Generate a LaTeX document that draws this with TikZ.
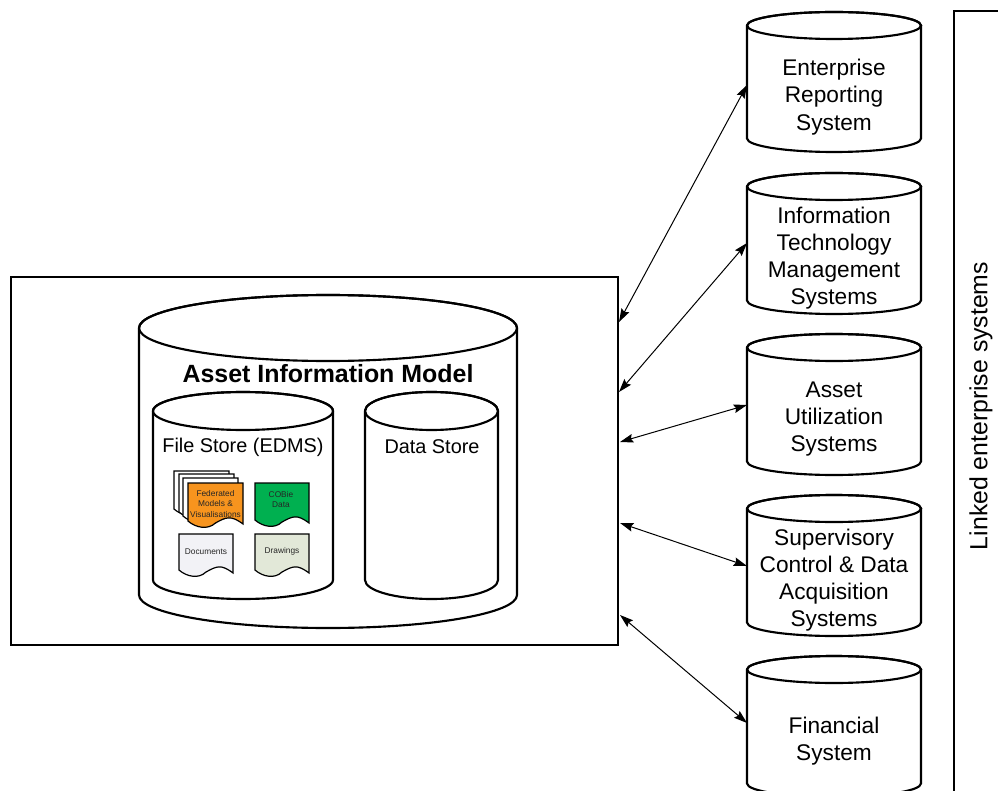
\documentclass[tikz,border=0pt]{standalone}
\usepackage{fontspec}
\setmainfont{Liberation Sans}
\definecolor{orangedoc}{HTML}{F7941E}
\definecolor{greendoc}{HTML}{00B050}
\definecolor{greydoc}{HTML}{F2F2F6}
\definecolor{sagedoc}{HTML}{E2E8D8}
\usetikzlibrary{arrows.meta}
\tikzset{
  outline/.style={draw=black,line width=1.6pt},
  thinline/.style={draw=black,line width=0.75pt,{Stealth[length=10pt,width=6.5pt,inset=1.5pt]}-{Stealth[length=10pt,width=6.5pt,inset=1.5pt]}},
  label/.style={align=center,font=\fontsize{17}{20.4}\selectfont,inner sep=0pt},
  storelabel/.style={align=center,font=\fontsize{14.9}{18}\selectfont,inner sep=0pt},
  doc/.style={draw=black,line width=0.9pt},
  doctext/.style={align=center,font=\fontsize{6.25}{7.6}\selectfont,inner sep=0pt,text=black!85}
}
% #1 left #2 right #3 top #4 bottom #5 half height of the ellipse
\newcommand{\cylshape}[5]{%
  \path[outline,fill=white] (#1,#3+#5)
    -- (#1,#4-#5) arc[start angle=180,end angle=0,x radius={(#2-#1)/2},y radius=#5]
    -- (#2,#3+#5) arc[start angle=0,end angle=-180,x radius={(#2-#1)/2},y radius=#5] -- cycle;
  \path[outline] (#1,#3+#5) arc[start angle=180,end angle=-180,x radius={(#2-#1)/2},y radius=#5];
}
% #1 left #2 right #3 top #4 bottom #5 fill
\newcommand{\docshape}[5]{%
  \path[doc,fill=#5] (#1,#3) -- (#2,#3) -- (#2,#4-3)
    .. controls (#2-12,#4-12) and (#1+38,#4-10) .. ({(#1+#2)/2},#4-4)
    .. controls (#1+20,#4+3) and (#1+8,#4+1) .. (#1,#4-6) -- cycle;
}
\begin{document}
\begin{tikzpicture}[x=0.75pt,y=-0.75pt]
\useasboundingbox (0,0) rectangle (998,791);
\clip (0,0) rectangle (998,791);
\fill[white] (0,0) rectangle (998,791);
% container
\node[outline,fill=white,minimum width=607pt*0.75,minimum height=368pt*0.75,inner sep=0pt,anchor=north west] (aim) at (10,276) {};
\draw[outline] (1010,11) -- (954,11) -- (954,800);
\node[rotate=90,font=\fontsize{18.6}{20}\selectfont,inner sep=0pt] (linked) at (981,406) {Linked enterprise systems};
% big cylinder
\cylshape{139}{517}{295}{628}{33}
\node[font=\bfseries\fontsize{18.7}{22}\selectfont,inner sep=0pt] (title) at (328,374) {Asset Information Model};
\cylshape{153}{333}{392}{599}{19}
\cylshape{365}{498}{392}{599}{19}
\node[storelabel] (file) at (243,447.5) {File Store (EDMS)};
\node[storelabel] (data) at (432,447) {Data Store};
% documents
\docshape{174}{229}{471}{515}{white}
\docshape{179}{234}{474}{518}{white}
\docshape{183}{238}{478}{522}{white}
\docshape{188}{243}{483}{527}{orangedoc}
\node[doctext] (fed) at (215.5,504) {Federated\\Models \&\\Visualisations};
\docshape{255}{309}{483}{526}{greendoc}
\node[doctext] (cobie) at (281,499.5) {COBie\\Data};
\docshape{179}{233}{534}{576}{greydoc}
\node[doctext] (docs) at (206,551.5) {Documents};
\docshape{255}{309}{534}{576}{sagedoc}
\node[doctext] (draw) at (282,551) {Drawings};
% systems
\cylshape{747}{921}{12}{152}{13.5}
\node[label] (s1) at (834,97) {Enterprise\\Reporting\\System};
\cylshape{747}{921}{173}{314}{13.5}
\node[label] (s2) at (834,258) {Information\\Technology\\Management\\Systems};
\cylshape{747}{921}{334}{475}{13.5}
\node[label] (s3) at (834,419) {Asset\\Utilization\\Systems};
\cylshape{747}{921}{495}{636}{13.5}
\node[label] (s4) at (834,580) {Supervisory\\Control \& Data\\Acquisition\\Systems};
\cylshape{747}{921}{656}{797}{13.5}
\node[label] (s5) at (834,741) {Financial\\System};
% connector ends
\coordinate (a1) at (619,322); \coordinate (b1) at (747,85);
\coordinate (a2) at (619,392); \coordinate (b2) at (747,243);
\coordinate (a3) at (620,442); \coordinate (b3) at (747,405);
\coordinate (a4) at (620,523); \coordinate (b4) at (747,566);
\coordinate (a5) at (620,615); \coordinate (b5) at (747,723);
\foreach \i in {1,...,5} \draw[thinline] (a\i) -- (b\i);
\end{tikzpicture}
\end{document}
